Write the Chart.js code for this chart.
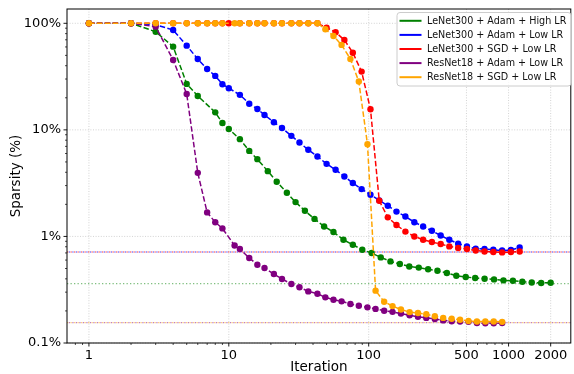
<!DOCTYPE html>
<html>
<head>
<meta charset="utf-8">
<script src="https://cdn.jsdelivr.net/npm/chart.js@4"></script>
<style>
  html, body { margin: 0; padding: 0; background: #fff; }
  #wrap { width: 574px; height: 374px; }
</style>
</head>
<body>
<div id="wrap"><canvas id="sparsityChart"></canvas></div>
<script>
// ================= DATA =================
// iteration grids (log spaced)
const itersGreen = [1,2,3,4,5,6,8,9,10,12,14,16,19,22,26,30,35,41,48,56,66,77,90,105,122,143,167,195,228,266,310,362,423,494,577,674,787,919,1074,1254,1464,1710,2000];
const itersLeNet = [1,2,3,4,5,6,7,8,9,10,12,14,16,18,21,24,28,32,37,43,50,58,67,77,89,103,119,137,158,183,212,245,283,327,377,436,504,582,673,778,899,1039,1200];
const itersResNet = [1,2,3,4,5,6,7,8,9,11,12,14,16,18,21,24,28,32,37,43,49,56,64,74,85,98,112,129,148,170,196,225,258,297,341,392,450,517,594,682,783,900];

// sparsity in %
const lenetAdamHigh = [100,100,83.4,60.4,27.0,20.8,14.6,11.6,10.2,8.18,6.35,5.31,4.10,3.26,2.57,2.10,1.74,1.46,1.24,1.10,0.93,0.836,0.75,0.698,0.636,0.583,0.551,0.523,0.51,0.492,0.477,0.454,0.428,0.416,0.407,0.401,0.395,0.387,0.384,0.376,0.370,0.366,0.368];
const lenetAdamLow = [100,100,97,86.5,61.7,46.2,37.3,32.1,26.8,24.6,21.3,17.6,15.7,13.8,11.8,10.4,8.79,7.60,6.50,5.62,4.80,4.22,3.65,3.17,2.78,2.46,2.18,1.94,1.71,1.54,1.36,1.24,1.13,1.02,0.931,0.855,0.806,0.767,0.762,0.75,0.737,0.745,0.789];
const lenetSgdLow = [100,100,100,100,100,100,100,100,100,100,100,100,100,100,100,100,100,100,100,100,91.0,82.4,69.7,53.0,35.2,15.6,2.16,1.51,1.28,1.11,1.00,0.931,0.886,0.849,0.806,0.779,0.762,0.739,0.723,0.714,0.708,0.714,0.723];
const resnetAdamLow = [100,100,93,45.3,21.7,3.95,1.68,1.36,1.19,0.823,0.762,0.628,0.543,0.506,0.444,0.399,0.358,0.333,0.305,0.290,0.268,0.255,0.246,0.232,0.224,0.216,0.209,0.201,0.196,0.189,0.182,0.176,0.172,0.168,0.163,0.160,0.159,0.158,0.154,0.153,0.153,0.154];
const resnetSgdLow = [100,100,100,100,100,100,100,100,100,100,100,100,100,100,100,100,100,100,100,100,87.9,76.0,62.7,46.3,28.4,7.34,0.310,0.244,0.222,0.206,0.195,0.191,0.186,0.178,0.172,0.169,0.165,0.161,0.159,0.159,0.159,0.158];

const seriesLabels = ["LeNet300 + Adam + High LR", "LeNet300 + Adam + Low LR", "LeNet300 + SGD + Low LR", "ResNet18 + Adam + Low LR", "ResNet18 + SGD + Low LR"];
const seriesColors = ["#008000", "#0000ff", "#ff0000", "#800080", "#ffa500"];

// horizontal dotted reference levels (%)
const refValues = [0.36, 0.714, 0.714, 0.155, 0.155];
const refColors = ["#008000", "#0000ff", "#ff0000", "#800080", "#ffa500"];

// ticks
const xMajor = [1, 10, 100, 500, 1000, 2000];
const xMinor = [0.8,0.9,2,3,4,5,6,7,8,9,20,30,40,50,60,70,80,90,200,300,400,600,700,800,900];
const yMajor = [0.1, 1, 10, 100];
const yLabels = ["0.1%", "1%", "10%", "100%"];
const yMinor = [0.2,0.3,0.4,0.5,0.6,0.7,0.8,0.9,2,3,4,5,6,7,8,9,20,30,40,50,60,70,80,90];

// ================= HELPERS =================
function pts(xs, ys) {
    return xs.map((v, i) => ({ x: v, y: ys[i] }));
}

const FONT = "'DejaVu Sans', sans-serif";

// grid, reference lines, frame, ticks and legend
const decorations = {
    id: "decorations",
    beforeDatasetsDraw(chart) {
        const { ctx, chartArea: a, scales: { x, y } } = chart;
        ctx.save();
        ctx.strokeStyle = "#c8c8c8";
        ctx.lineWidth = 0.8;
        ctx.setLineDash([1, 1.6]);
        xMajor.forEach(v => {
            const px = x.getPixelForValue(v);
            ctx.beginPath(); ctx.moveTo(px, a.top); ctx.lineTo(px, a.bottom); ctx.stroke();
        });
        yMajor.forEach(v => {
            const py = y.getPixelForValue(v);
            ctx.beginPath(); ctx.moveTo(a.left, py); ctx.lineTo(a.right, py); ctx.stroke();
        });
        // reference lines
        ctx.lineWidth = 1.3;
        refValues.forEach((v, i) => {
            const py = y.getPixelForValue(v);
            ctx.strokeStyle = refColors[i];
            ctx.globalAlpha = 0.5;
            ctx.setLineDash([1.3, 2.2]);
            ctx.lineDashOffset = (i % 2) * 1.7;
            ctx.beginPath(); ctx.moveTo(a.left, py); ctx.lineTo(a.right, py); ctx.stroke();
        });
        ctx.restore();
    },
    afterDraw(chart) {
        const { ctx, chartArea: a, scales: { x, y } } = chart;
        ctx.save();
        ctx.strokeStyle = "#000";
        ctx.lineWidth = 1;
        ctx.strokeRect(a.left, a.top, a.right - a.left, a.bottom - a.top);

        // tick marks
        const tick = (px, len, horiz) => {
            ctx.beginPath();
            if (horiz) { ctx.moveTo(px, a.bottom); ctx.lineTo(px, a.bottom + len); }
            else { ctx.moveTo(a.left, px); ctx.lineTo(a.left - len, px); }
            ctx.stroke();
        };
        ctx.lineWidth = 0.9;
        xMajor.forEach(v => tick(x.getPixelForValue(v), 3.5, true));
        yMajor.forEach(v => tick(y.getPixelForValue(v), 3.5, false));
        ctx.lineWidth = 0.7;
        xMinor.forEach(v => tick(x.getPixelForValue(v), 2, true));
        yMinor.forEach(v => tick(y.getPixelForValue(v), 2, false));

        // legend
        const bx = 397, by = 12.5, bw = 174, bh = 73.5;
        ctx.globalAlpha = 0.8;
        ctx.fillStyle = "#fff";
        ctx.strokeStyle = "#cccccc";
        ctx.lineWidth = 1;
        ctx.beginPath();
        ctx.roundRect(bx, by, bw, bh, 3);
        ctx.fill();
        ctx.globalAlpha = 1;
        ctx.stroke();

        ctx.font = "9.6px " + FONT;
        ctx.textBaseline = "middle";
        ctx.textAlign = "left";
        chart.data.datasets.forEach((ds, i) => {
            const ry = 20.8 + i * 14.1;
            ctx.strokeStyle = ds.borderColor;
            ctx.lineWidth = 2;
            ctx.beginPath(); ctx.moveTo(399.5, ry); ctx.lineTo(421.5, ry); ctx.stroke();
            ctx.fillStyle = "#111";
            ctx.fillText(ds.label, 427, ry + 0.5);
        });
        ctx.restore();
    }
};

// ================= CHART =================
const datasetsData = [lenetAdamHigh, lenetAdamLow, lenetSgdLow, resnetAdamLow, resnetSgdLow];
const itersData = [itersGreen, itersLeNet, itersLeNet, itersResNet, itersResNet];

const sparsityCtx = document.getElementById("sparsityChart");
new Chart(sparsityCtx, {
    type: "line",
    data: {
        datasets: datasetsData.map((vals, i) => ({
            label: seriesLabels[i],
            data: pts(itersData[i], vals),
            borderColor: seriesColors[i],
            backgroundColor: seriesColors[i],
            pointBackgroundColor: seriesColors[i],
            pointBorderColor: seriesColors[i],
            pointBorderWidth: 0,
            pointRadius: 3.2,
            pointHoverRadius: 3.2,
            borderWidth: 1.5,
            borderDash: [5.5, 2.4],
            tension: 0,
            fill: false,
            order: 5 - i
        }))
    },
    options: {
        responsive: true,
        maintainAspectRatio: false,
        animation: false,
        events: [],
        layout: { padding: { top: 9, right: 1, left: 0, bottom: 0 } },
        plugins: {
            legend: { display: false },
            tooltip: { enabled: false }
        },
        scales: {
            x: {
                type: "logarithmic",
                min: 0.697,
                max: 2785,
                afterBuildTicks: (scale) => { scale.ticks = xMajor.map(v => ({ value: v })); },
                afterFit: (scale) => {
                    scale.height = 31;
                    scale.paddingLeft = 0;
                    scale.paddingRight = 0;
                },
                grid: { display: false, drawTicks: false },
                border: { display: false },
                ticks: {
                    autoSkip: false,
                    maxRotation: 0,
                    padding: 5,
                    color: "#000",
                    font: { family: FONT, size: 13 },
                    callback: (v) => String(v)
                },
                title: {
                    display: true,
                    text: "Iteration",
                    color: "#000",
                    font: { family: FONT, size: 13.5, lineHeight: 1 },
                    padding: { top: 0, bottom: 0 }
                }
            },
            y: {
                type: "logarithmic",
                min: 0.1,
                max: 136.2,
                afterBuildTicks: (scale) => { scale.ticks = yMajor.map(v => ({ value: v })); },
                afterFit: (scale) => {
                    scale.width = 67;
                    scale.paddingTop = 0;
                    scale.paddingBottom = 0;
                },
                grid: { display: false, drawTicks: false },
                border: { display: false },
                ticks: {
                    autoSkip: false,
                    padding: 6,
                    color: "#000",
                    font: { family: FONT, size: 13 },
                    callback: (v) => yLabels[yMajor.indexOf(v)]
                },
                title: {
                    display: true,
                    text: "Sparsity (%)",
                    color: "#000",
                    font: { family: FONT, size: 13.5, lineHeight: 1 },
                    padding: { top: 10, bottom: 0 }
                }
            }
        }
    },
    plugins: [decorations]
});
</script>
</body>
</html>
